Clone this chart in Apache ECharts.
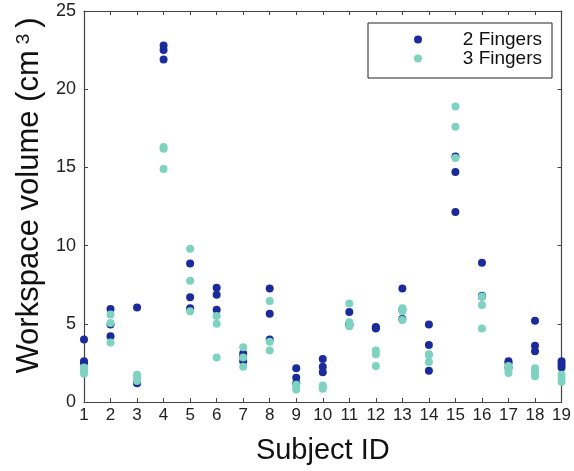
<!DOCTYPE html>
<html>
<head>
<meta charset="utf-8">
<script src="https://cdn.jsdelivr.net/npm/echarts@6/dist/echarts.min.js"></script>
<style>
html, body { margin: 0; padding: 0; background: #fff; }
#myChart { width: 574px; height: 471px; }
</style>
</head>
<body>
<div id="myChart"></div>
<script>
// subjects and measured volumes (3 trials each)
let subjects = [1, 2, 3, 4, 5, 6, 7, 8, 9, 10, 11, 12, 13, 14, 15, 16, 17, 18, 19]
let twoFingers = [
    [4.0, 2.6, 2.5], [5.95, 4.95, 4.2], [6.05, 1.25, 1.2], [22.8, 22.5, 21.9],
    [8.85, 6.7, 6.0], [7.3, 6.85, 5.9], [3.1, 2.9, 2.6], [7.25, 5.65, 4.0],
    [2.15, 1.55, 1.2], [2.75, 2.25, 1.9], [5.75, 5.0, 4.9], [4.8, 4.75, 4.7],
    [7.25, 5.9, 5.3], [4.95, 3.65, 2.0], [15.7, 14.7, 12.15], [8.9, 6.8, 6.75],
    [2.6, 2.5, 2.2], [5.2, 3.6, 3.25], [2.6, 2.4, 2.2]
]
let threeFingers = [
    [2.2, 2.0, 1.8], [5.6, 5.05, 3.8], [1.75, 1.55, 1.35], [16.3, 16.2, 14.9],
    [9.8, 7.75, 5.8], [5.5, 5.0, 2.85], [3.5, 2.85, 2.25], [6.45, 3.85, 3.3],
    [1.1, 0.95, 0.8], [1.05, 0.95, 0.85], [6.3, 5.1, 4.85], [3.3, 3.05, 2.3],
    [6.0, 5.8, 5.25], [3.05, 3.0, 2.55], [18.9, 17.6, 15.6], [6.75, 6.2, 4.7],
    [2.3, 2.05, 1.85], [2.15, 1.9, 1.65], [1.75, 1.5, 1.3]
]

let toPoints = (rows) => {
    let pts = []
    rows.forEach((vals, i) => {
        vals.forEach(v => pts.push([subjects[i], v]))
    })
    return pts
}

let myChart = echarts.init(document.getElementById('myChart'))
let font = 'Liberation Sans, Arial, sans-serif'
let lineColor = '#444'

let axisBits = {
    axisLine: { show: true, onZero: false, lineStyle: { color: lineColor, width: 1.2 } },
    axisTick: { show: true, inside: true, length: 4, lineStyle: { color: lineColor } },
    splitLine: { show: false }
}
let baseX = Object.assign({ type: 'value', min: 1, max: 19, interval: 1 }, axisBits)
let baseY = Object.assign({ type: 'value', min: 0, max: 25, interval: 5 }, axisBits)

let option = {
    animation: false,
    grid: { left: 84, right: 11, top: 11, bottom: 69 },
    textStyle: { fontFamily: font },
    xAxis: [
        Object.assign({}, baseX, {
            position: 'bottom',
            axisLabel: { color: '#222', fontSize: 17, margin: 5, fontFamily: font },
            name: 'Subject ID',
            nameLocation: 'middle',
            nameGap: 34,
            nameTextStyle: { color: '#111', fontSize: 29, fontFamily: font }
        }),
        Object.assign({}, baseX, { position: 'top', axisLabel: { show: false } })
    ],
    yAxis: [
        Object.assign({}, baseY, {
            position: 'left',
            axisLabel: { color: '#222', fontSize: 18, margin: 8, fontFamily: font },
            name: 'Workspace volume (cm{sup|3})',
            nameLocation: 'middle',
            nameGap: 38,
            nameTextStyle: {
                color: '#111', fontSize: 31, fontFamily: font, padding: [0, 0, 0, 22],
                rich: { sup: { fontSize: 19, fontFamily: font, color: '#111', verticalAlign: 'top', padding: [0, 6, 0, 6] } }
            }
        }),
        Object.assign({}, baseY, { position: 'right', axisLabel: { show: false } })
    ],
    legend: {
        orient: 'vertical',
        left: 368,
        top: 23,
        padding: [7, 10, 10, 46],
        itemGap: 0,
        itemWidth: 8,
        itemHeight: 8,
        icon: 'circle',
        borderColor: '#222',
        borderWidth: 1,
        backgroundColor: '#fff',
        formatter: '{t|{name}}',
        textStyle: {
            fontSize: 19, fontFamily: font, color: '#111', lineHeight: 19,
            rich: { t: { width: 115, height: 19, lineHeight: 19, align: 'right', fontSize: 19, fontFamily: font } }
        },
        data: ['2 Fingers', '3 Fingers']
    },
    series: [
        {
            name: '2 Fingers', type: 'scatter', symbolSize: 8,
            itemStyle: { color: '#1c2b9b', opacity: 1 },
            data: toPoints(twoFingers)
        },
        {
            name: '3 Fingers', type: 'scatter', symbolSize: 8,
            itemStyle: { color: '#7dd3c0', opacity: 1 },
            data: toPoints(threeFingers)
        }
    ]
}
myChart.setOption(option)

window.addEventListener('resize', () => {
    myChart.resize()
})
</script>
</body>
</html>
